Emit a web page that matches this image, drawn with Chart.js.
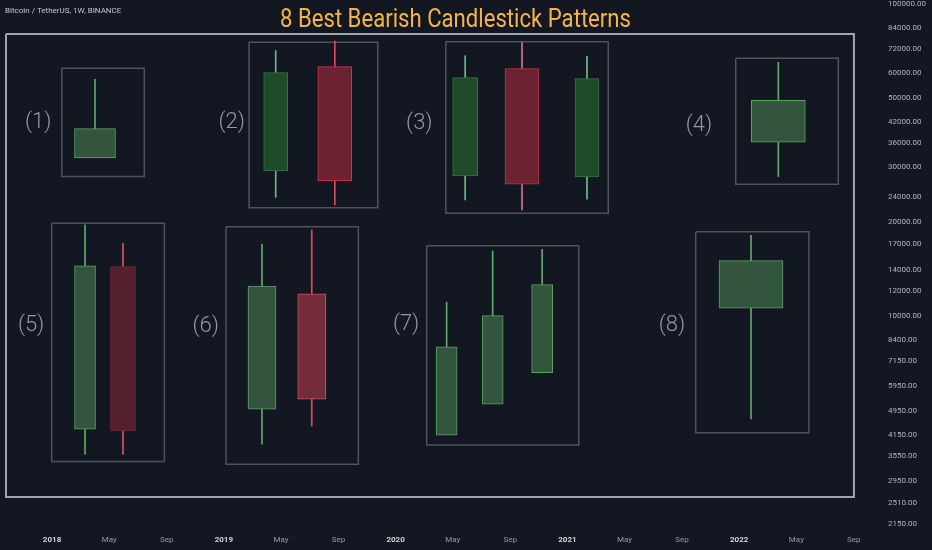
<!DOCTYPE html>
<html>
<head>
<meta charset="utf-8">
<script src="https://cdn.jsdelivr.net/npm/chart.js@4/dist/chart.umd.min.js"></script>
<style>
  html, body { margin: 0; background: #131722; }
  canvas { display: block; }
</style>
</head>
<body>
<canvas id="chart" width="932" height="550"></canvas>
<script>
// time axis (decimal years) and price axis (log)
const xTickValues = [2018, 2018.333, 2018.667, 2019, 2019.333, 2019.667, 2020, 2020.333, 2020.667,
                     2021, 2021.333, 2021.667, 2022, 2022.333, 2022.667];
const xTickLabels = ['2018', 'May', 'Sep', '2019', 'May', 'Sep', '2020', 'May', 'Sep',
                     '2021', 'May', 'Sep', '2022', 'May', 'Sep'];
const yTickValues = [100000, 84000, 72000, 60000, 50000, 42000, 36000, 30000, 24000, 20000, 17000,
                     14000, 12000, 10000, 8400, 7150, 5950, 4950, 4150, 3550, 2950, 2510, 2150];

// candles, in pattern order (1)..(8)
const candleX     = [2018.250, 2019.302, 2019.646, 2020.405, 2020.736, 2021.114, 2022.228,
                     2018.192, 2018.413, 2019.222, 2019.512, 2020.297, 2020.565, 2020.853, 2022.069];
const candleOpen  = [32130, 29190, 63070, 28130, 62140, 27920, 36080,
                     4330, 14390, 5020, 11770, 4142, 5208, 6578, 10590];
const candleHigh  = [57460, 70970, 76250, 68410, 75300, 68110, 65150,
                     19590, 17110, 16980, 18870, 11070, 16160, 16370, 18150];
const candleLow   = [32130, 24030, 22700, 23560, 21880, 23680, 27990,
                     3600, 3600, 3877, 4437, 4142, 5208, 6578, 4673];
const candleClose = [39900, 60330, 27110, 58140, 26450, 57710, 49200,
                     14470, 4276, 12480, 5405, 7953, 10020, 12600, 15050];

// rectangles drawn around each pattern
const boxLeft   = [2018.057, 2019.147, 2020.292, 2021.980, 2017.998, 2019.013, 2020.181, 2021.747];
const boxRight  = [2018.537, 2019.896, 2021.238, 2022.577, 2018.654, 2019.783, 2021.066, 2022.406];
const boxTop    = [62330, 75520, 75860, 67100, 19830, 19340, 16810, 18640];
const boxBottom = [27990, 22250, 21360, 26450, 3409, 3344, 3856, 4223];
const frameBox  = [2017.732, 2022.668, 80290, 2626]; // left, right, top, bottom

const labelText = ['(1)', '(2)', '(3)', '(4)', '(5)', '(6)', '(7)', '(8)'];
const labelX = [2017.919, 2019.046, 2020.138, 2021.766, 2017.878, 2018.895, 2020.061, 2021.609];
const labelY = [41700, 41700, 41300, 40780, 9288, 9241, 9357, 9288];

// styles
const GS = { fill: '#33543d', edge: '#58a563', wick: '#5cab68' };
const GD = { fill: '#1f4b2b', edge: '#2e7a3b', wick: '#6bbd84' };
const R2 = { fill: '#6b2231', edge: '#d8334a', wick: '#e5465c' };
const R3 = { fill: '#6b2231', edge: '#c8354a', wick: '#c77a8a' };
const RD = { fill: '#55202e', edge: '#6d2736', wick: '#e05262' };
const R6 = { fill: '#742b3a', edge: '#e0495a', wick: '#e0495a' };
const candleStyle = [GS, GD, R2, GD, R3, GD, GS, GS, RD, GS, R6, GS, GS, GS, GS];
const candleWidth = [41, 24, 34, 25, 34, 24, 54, 21, 25, 28, 28, 21, 21, 21, 64];

const xMin = 2017.697, xMax = 2022.715;
const yMin = 2057, yMax = 103200;
const FONT = 'Roboto, "Noto Sans", sans-serif';

function boxPoints(l, r, t, b) {
    return [{x: l, y: t}, {x: r, y: t}, {x: r, y: b}, {x: l, y: b}, {x: l, y: t}];
}

const datasets = [];

datasets.push({
    type: 'line',
    data: boxPoints(frameBox[0], frameBox[1], frameBox[2], frameBox[3]),
    borderColor: '#a3a6af', borderWidth: 2, pointRadius: 0, tension: 0,
    borderJoinStyle: 'miter', order: 3
});
boxLeft.forEach((l, i) => {
    datasets.push({
        type: 'line',
        data: boxPoints(l, boxRight[i], boxTop[i], boxBottom[i]),
        borderColor: '#4f535e', borderWidth: 1.5, pointRadius: 0, tension: 0,
        borderJoinStyle: 'miter', order: 3
    });
});

// wicks, only the parts outside the body
const wickData = [];
const wickColors = [];
candleX.forEach((x, i) => {
    const top = Math.max(candleOpen[i], candleClose[i]);
    const bot = Math.min(candleOpen[i], candleClose[i]);
    if (candleHigh[i] > top) {
        wickData.push({x: x, y: [top, candleHigh[i]]});
        wickColors.push(candleStyle[i].wick);
    }
    if (candleLow[i] < bot) {
        wickData.push({x: x, y: [candleLow[i], bot]});
        wickColors.push(candleStyle[i].wick);
    }
});
datasets.push({
    type: 'bar', data: wickData, backgroundColor: wickColors,
    barThickness: 1, grouped: false, order: 2
});

// bodies
candleX.forEach((x, i) => {
    datasets.push({
        type: 'bar',
        data: [{x: x, y: [candleOpen[i], candleClose[i]]}],
        backgroundColor: candleStyle[i].fill,
        borderColor: candleStyle[i].edge,
        borderWidth: 1,
        borderSkipped: false,
        barThickness: candleWidth[i],
        grouped: false,
        order: 1
    });
});

const textPlugin = {
    id: 'texts',
    beforeDraw(chart) {
        const ctx = chart.ctx;
        ctx.save();
        ctx.fillStyle = '#131722';
        ctx.fillRect(0, 0, chart.width, chart.height);
        ctx.restore();
    },
    afterDraw(chart) {
        const ctx = chart.ctx;
        const xs = chart.scales.x, ys = chart.scales.y;
        ctx.save();
        ctx.fillStyle = '#9598a1';
        ctx.font = '300 22px ' + FONT;
        ctx.textAlign = 'center';
        ctx.textBaseline = 'middle';
        labelText.forEach((t, i) => {
            ctx.fillText(t, xs.getPixelForValue(labelX[i]), ys.getPixelForValue(labelY[i]));
        });

        // title is narrower than Roboto, squeeze it to the width seen
        const title = '8 Best Bearish Candlestick Patterns';
        ctx.fillStyle = '#f6b34a';
        ctx.font = '26px ' + FONT;
        ctx.textAlign = 'center';
        ctx.textBaseline = 'alphabetic';
        const sx = 351 / ctx.measureText(title).width;
        ctx.translate(455.5, 26.5);
        ctx.scale(sx, 1);
        ctx.fillText(title, 0, 0);
        ctx.setTransform(1, 0, 0, 1, 0, 0);
        ctx.restore();

        ctx.save();
        ctx.fillStyle = '#c3c6ce';
        ctx.font = '8px ' + FONT;
        ctx.textAlign = 'left';
        ctx.textBaseline = 'middle';
        ctx.fillText('Bitcoin / TetherUS, 1W, BINANCE', 5, 11);
        ctx.restore();
    }
};

new Chart(document.getElementById('chart'), {
    type: 'bar',
    data: { datasets: datasets },
    options: {
        responsive: false,
        animation: false,
        layout: { padding: 0 },
        plugins: { legend: { display: false }, tooltip: { enabled: false } },
        scales: {
            x: {
                type: 'linear', min: xMin, max: xMax, offset: false,
                grid: { display: false, drawTicks: false },
                border: { display: false },
                afterBuildTicks: s => { s.ticks = xTickValues.map(v => ({value: v})); },
                afterFit: s => { s.height = 20; s.paddingLeft = 0; s.paddingRight = 0; },
                ticks: {
                    autoSkip: false, maxRotation: 0, padding: 5,
                    callback: (v, i) => xTickLabels[i],
                    color: c => /^\d/.test(xTickLabels[c.index]) ? '#d1d4dc' : '#9598a1',
                    font: c => ({ family: FONT, size: 8, weight: /^\d/.test(xTickLabels[c.index]) ? 'bold' : 'normal' })
                }
            },
            y: {
                type: 'logarithmic', position: 'right', min: yMin, max: yMax,
                grid: { display: false, drawTicks: false },
                border: { display: false },
                afterBuildTicks: s => { s.ticks = yTickValues.map(v => ({value: v})); },
                afterFit: s => { s.width = 70; s.paddingTop = 0; s.paddingBottom = 0; },
                ticks: {
                    padding: 26,
                    callback: v => Number(v).toFixed(2),
                    color: '#b2b5be',
                    font: { family: FONT, size: 8 }
                }
            }
        }
    },
    plugins: [textPlugin]
});
</script>
</body>
</html>
